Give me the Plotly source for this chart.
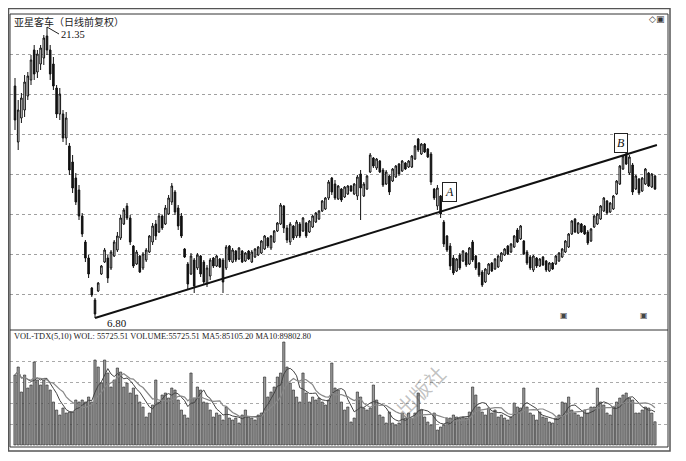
import plotly.graph_objects as go
import pandas as pd

# ---------------- data ----------------
open_ = [18.4,15.6,16.8,17.2,17.9,18.7,20.2,19.1,19.5,19.8,
 20.9,20.2,19.5,18.3,17.0,17.0,15.8,15.4,14.6,13.8,
 13.2,11.9,10.6,9.8,8.3,7.7,8.15,9.0,9.6,9.8,
 9.3,9.9,10.2,10.8,11.5,12.4,11.8,10.4,9.5,9.9,
 9.3,9.7,10.1,10.6,11.5,11.1,11.9,11.5,12.0,12.6,
 13.1,12.3,11.9,10.25,9.5,9.0,9.7,9.3,9.9,9.6,
 8.5,8.9,9.8,9.4,9.75,9.7,9.3,10.4,9.6,10.15,
 9.75,10.15,9.65,10.15,9.6,9.85,9.95,10.05,10.25,10.8,
 10.3,10.6,11.15,11.5,12.4,11.3,10.6,11.4,10.9,11.5,
 11.15,11.55,11.1,11.35,11.6,11.75,12.15,12.25,12.8,13.8,
 13.5,12.75,13.25,12.85,13.0,13.4,13.0,12.9,14.0,12.9,
 13.25,14.1,14.8,14.3,14.65,14.2,13.5,13.9,13.65,13.85,
 14.5,14.15,14.55,14.35,14.35,14.75,15.75,15.0,15.5,15.25,
 15.0,13.25,12.4,12.9,11.6,10.9,10.4,9.8,9.15,9.95,
 9.65,10.05,9.5,10.6,9.9,9.55,9.1,8.6,9.0,9.55,
 9.25,9.35,9.65,9.95,10.4,10.1,10.35,11.2,10.75,10.65,
 10.1,9.85,9.2,9.8,9.4,9.85,9.65,9.15,9.55,9.5,
 9.65,9.85,10.1,10.35,11.0,11.75,11.05,11.5,11.4,11.1,
 10.65,11.35,11.5,11.75,12.15,12.65,12.1,12.25,13.0,13.5,
 14.25,15.0,14.05,14.45,13.25,13.75,13.15,13.5,14.05,13.35,
 13.9]

high = [18.80,17.70,18.05,18.95,19.10,19.95,20.45,20.20,20.45,20.95,
 21.35,20.45,19.85,18.45,18.30,17.20,17.10,15.55,14.95,14.05,
 13.45,12.05,10.70,9.95,8.35,7.80,8.60,9.45,10.30,9.95,
 10.20,10.70,11.10,11.95,12.30,12.55,11.95,10.45,10.20,9.95,
 10.10,10.30,10.95,11.55,11.70,12.05,11.95,12.45,12.95,13.55,
 13.20,12.45,12.05,10.30,9.60,10.05,9.80,10.05,9.95,9.70,
 9.45,9.80,9.85,9.95,9.80,9.80,10.45,10.45,10.30,10.20,
 10.35,10.20,10.10,10.20,10.20,10.30,10.40,10.70,10.95,10.85,
 10.95,11.20,11.60,12.55,12.45,11.45,11.60,11.45,11.70,11.60,
 11.85,11.60,11.70,11.95,12.10,12.20,12.70,12.85,13.70,13.85,
 13.70,13.45,13.30,13.40,13.45,13.45,13.55,13.95,14.20,13.60,
 13.95,15.05,14.85,14.80,14.70,14.30,14.20,13.95,14.30,14.45,
 14.55,14.70,14.60,14.70,14.95,15.45,15.80,15.55,15.55,15.30,
 15.10,13.30,13.45,12.95,11.70,10.95,10.55,9.95,9.80,10.05,
 10.20,10.10,10.35,10.70,9.95,9.60,9.20,9.30,9.55,9.60,
 9.80,9.95,10.10,10.30,10.45,10.55,10.95,11.30,11.45,10.70,
 10.20,9.95,9.95,9.85,9.80,9.90,9.70,9.60,9.60,9.95,
 10.10,10.30,10.70,11.05,11.70,11.80,11.60,11.55,11.45,11.20,
 11.30,11.95,12.05,12.45,12.85,12.70,12.60,12.95,13.70,14.45,
 14.95,15.05,14.95,14.55,13.95,13.80,13.85,14.30,14.10,14.05,
 13.95]

low = [16.20,15.20,16.55,16.85,17.70,18.45,18.70,18.80,19.20,19.45,
 19.95,18.70,18.20,16.80,16.70,15.60,15.45,13.95,13.05,12.45,
 11.70,10.85,9.60,8.80,7.85,6.80,8.10,8.95,9.55,8.55,
 9.20,9.85,10.10,10.70,11.45,11.70,10.45,9.30,9.45,9.05,
 9.20,9.60,10.05,10.45,10.70,11.05,11.20,11.45,11.95,12.45,
 11.95,11.20,10.80,9.80,8.20,8.95,8.05,9.20,8.85,8.45,
 8.35,8.70,9.30,9.35,9.30,8.05,9.20,9.60,9.55,9.60,
 9.70,9.55,9.60,9.70,9.55,9.80,9.90,10.00,10.20,10.30,
 10.20,10.55,11.10,11.45,11.05,10.55,10.45,10.70,10.80,10.80,
 11.10,10.80,11.05,11.30,11.55,11.70,12.10,12.20,12.70,12.95,
 12.70,12.70,12.60,12.80,12.95,13.10,12.95,12.70,11.70,12.85,
 13.20,14.05,14.30,14.20,14.05,13.35,13.45,12.95,13.60,13.80,
 13.90,14.10,14.20,14.30,14.30,14.70,15.10,14.95,15.05,14.80,
 13.45,12.70,12.20,11.80,10.35,10.10,9.20,8.95,9.10,9.20,
 9.60,9.35,9.45,9.60,9.20,8.85,8.35,8.55,8.95,9.10,
 9.20,9.30,9.60,9.90,9.95,10.05,10.30,10.55,10.70,9.95,
 9.45,9.20,9.10,9.30,9.35,9.40,9.10,9.10,9.20,9.45,
 9.60,9.80,10.05,10.30,10.95,11.05,11.00,11.05,10.95,10.45,
 10.60,11.30,11.45,11.70,12.10,11.95,12.05,12.20,12.95,13.45,
 14.20,14.45,13.95,12.95,13.20,12.95,13.10,13.45,13.35,13.30,
 13.20]

close = [16.7,17.2,17.8,18.6,18.9,19.7,19.0,20.0,20.3,20.8,
 20.2,19.0,18.4,17.0,18.0,15.8,16.8,14.2,13.3,12.6,
 11.9,11.0,9.8,9.0,7.95,7.0,8.55,9.4,10.2,8.8,
 10.1,10.6,10.9,11.8,12.2,11.8,10.6,9.4,10.1,9.1,
 10.0,10.2,10.9,11.4,10.9,11.9,11.3,12.3,12.8,13.4,
 12.1,11.4,10.9,9.85,8.5,9.9,8.4,9.95,9.0,8.6,
 9.3,9.7,9.4,9.9,9.35,8.6,10.35,9.7,10.2,9.7,
 10.3,9.6,10.05,9.75,10.1,10.25,10.35,10.65,10.9,10.4,
 10.9,11.15,11.55,12.45,11.3,10.7,11.5,10.8,11.6,10.9,
 11.8,10.9,11.65,11.9,12.05,12.15,12.65,12.8,13.6,13.1,
 12.8,13.4,12.7,13.35,13.4,13.15,13.5,13.85,13.3,13.5,
 13.9,14.95,14.4,14.75,14.1,13.45,14.1,13.1,14.25,14.4,
 14.0,14.65,14.25,14.65,14.9,15.4,15.2,15.5,15.1,14.85,
 13.6,12.8,13.3,12.0,10.5,10.2,9.4,9.05,9.75,9.3,
 10.15,9.45,10.3,9.7,9.3,8.95,8.45,9.25,9.5,9.15,
 9.75,9.9,10.05,10.25,10.0,10.5,10.9,10.6,11.4,10.0,
 9.55,9.3,9.9,9.4,9.75,9.45,9.2,9.55,9.25,9.9,
 10.05,10.25,10.65,11.0,11.65,11.1,11.55,11.1,11.0,10.55,
 11.25,11.9,12.0,12.4,12.8,12.05,12.55,12.9,13.65,14.4,
 14.9,14.5,14.85,13.1,13.9,13.05,13.8,14.25,13.4,14.0,
 13.25]

# volume in thousands of lots
volume_k = [168.0,187.2,127.2,168.0,136.8,144.0,199.2,156.0,144.0,156.0,
 144.0,132.0,103.2,84.0,72.0,88.8,76.8,79.2,79.2,108.0,
 103.2,108.0,103.2,115.2,103.2,204.0,187.2,148.8,204.0,172.8,
 139.2,156.0,184.8,175.2,139.2,148.8,124.8,136.8,120.0,103.2,
 91.2,67.2,76.8,96.0,156.0,103.2,120.0,124.8,112.8,136.8,
 132.0,108.0,84.0,72.0,64.8,172.8,112.8,139.2,132.0,103.2,
 100.8,84.0,67.2,76.8,72.0,60.0,91.2,64.8,60.0,64.8,
 52.8,72.0,84.0,67.2,64.8,60.0,72.0,76.8,163.2,115.2,
 127.2,139.2,163.2,172.8,247.2,187.2,148.8,132.0,115.2,103.2,
 172.8,124.8,103.2,115.2,108.0,112.8,103.2,96.0,108.0,196.8,
 136.8,132.0,103.2,84.0,91.2,55.2,64.8,127.2,115.2,88.8,
 84.0,88.8,144.0,108.0,72.0,67.2,52.8,79.2,52.8,48.0,
 52.8,76.8,64.8,76.8,64.8,76.8,124.8,84.0,67.2,55.2,
 48.0,76.8,36.0,43.2,48.0,64.8,64.8,72.0,67.2,64.8,
 67.2,64.8,79.2,139.2,120.0,91.2,79.2,72.0,88.8,76.8,
 84.0,67.2,72.0,64.8,60.0,67.2,100.8,91.2,88.8,136.8,
 91.2,76.8,72.0,60.0,79.2,67.2,64.8,55.2,52.8,64.8,
 72.0,103.2,100.8,115.2,84.0,76.8,72.0,67.2,84.0,76.8,
 91.2,91.2,136.8,103.2,96.0,76.8,72.0,91.2,103.2,112.8,
 120.0,124.8,112.8,108.0,76.8,76.8,84.0,91.2,88.8,76.8,
 55.73]

# support trend line (from the 6.80 low through A and B)
trend_x = [25, 200.6]
trend_y = [6.80, 15.45]

price_grid = [8, 10, 12, 14, 16, 18, 20]
vol_grid = [50, 100, 150, 200]

title_text = "亚星客车（日线前复权）"
vol_text = "VOL-TDX(5,10) WOL: 55725.51 VOLUME:55725.51 MA5:85105.20 MA10:89802.80"

# ---------------- figure ----------------
idx = list(range(len(close)))
OFF = 8                      # page body margin of the html page
W, H = 686 - OFF, 461 - OFF
def px(x):
    return (x - OFF) / W
def py(y):
    return 1 - (y - OFF) / H

vol_s = pd.Series(volume_k)
ma5 = vol_s.rolling(5, min_periods=1).mean()
ma10 = vol_s.rolling(10, min_periods=1).mean()

fig = go.Figure()
fig.add_trace(go.Candlestick(
    x=idx, open=open_, high=high, low=low, close=close,
    increasing=dict(line=dict(color="#111", width=1), fillcolor="#ffffff"),
    decreasing=dict(line=dict(color="#111", width=1), fillcolor="#111111"),
    whiskerwidth=0, xaxis="x", yaxis="y", showlegend=False, hoverinfo="skip"))

fig.add_trace(go.Scatter(x=trend_x, y=trend_y, mode="lines",
    line=dict(color="#111", width=2), xaxis="x", yaxis="y", showlegend=False))

fig.add_trace(go.Bar(x=idx, y=volume_k, marker=dict(color="#9a9a9a", line=dict(color="#222", width=0.6)),
    xaxis="x2", yaxis="y2", showlegend=False))
fig.add_trace(go.Scatter(x=idx, y=ma5, mode="lines", line=dict(color="#444", width=1),
    xaxis="x2", yaxis="y2", showlegend=False))
fig.add_trace(go.Scatter(x=idx, y=ma10, mode="lines", line=dict(color="#888", width=1.2),
    xaxis="x2", yaxis="y2", showlegend=False))

xr = [(10 - 15) / 3.2, (668 - 15) / 3.2]
fig.update_layout(
    width=W, height=H, margin=dict(l=0, r=0, t=0, b=0),
    paper_bgcolor="white", plot_bgcolor="white", bargap=0.3,
    xaxis=dict(domain=[px(10), px(668)], range=xr, showticklabels=False, showgrid=False,
               zeroline=False, rangeslider=dict(visible=False), fixedrange=True),
    yaxis=dict(domain=[py(330), py(13)], range=[6.2, 22.05], showticklabels=False,
               tickvals=price_grid, showgrid=True, gridcolor="#a0a0a0", griddash="dot",
               gridwidth=1, zeroline=False),
    xaxis2=dict(domain=[px(10), px(668)], range=xr, showticklabels=False, showgrid=False,
                zeroline=False, anchor="y2"),
    yaxis2=dict(domain=[py(447), py(330)], range=[-4.8, 276], showticklabels=False,
                tickvals=vol_grid, showgrid=True, gridcolor="#aaaaaa", griddash="dot",
                gridwidth=1, zeroline=False, anchor="x2"),
    font=dict(family="Liberation Serif", color="#111"),
)

shapes = [
    dict(type="rect", xref="paper", yref="paper", x0=px(8.5), x1=px(670), y0=py(451), y1=py(8.5),
         line=dict(color="#555", width=1.5)),
    dict(type="rect", xref="paper", yref="paper", x0=px(10), x1=px(668), y0=py(447), y1=py(14),
         line=dict(color="#333", width=1)),
    dict(type="line", xref="paper", yref="paper", x0=px(10), x1=px(668), y0=py(330), y1=py(330),
         line=dict(color="#333", width=1)),
]
fig.update_layout(shapes=shapes)

ann = [
    dict(xref="paper", yref="paper", x=px(12), y=py(21), text=title_text, showarrow=False,
         xanchor="left", yanchor="middle", font=dict(family="Noto Sans CJK SC", size=10, color="#222")),
    dict(xref="paper", yref="paper", x=px(12), y=py(336), text=vol_text, showarrow=False,
         xanchor="left", yanchor="middle", font=dict(family="Liberation Serif", size=8.4, color="#222")),
    dict(xref="paper", yref="paper", x=px(666), y=py(19), text="◇▣", showarrow=False,
         xanchor="right", yanchor="middle", font=dict(family="DejaVu Sans", size=9, color="#333")),
    dict(xref="x", yref="y", x=10, y=21.35, ax=12, ay=7, text="21.35", showarrow=True,
         arrowhead=0, arrowwidth=1, arrowcolor="#222", xanchor="left", yanchor="middle",
         font=dict(family="Liberation Serif", size=10.5, color="#111")),
    dict(xref="x", yref="y", x=31.9, y=6.55, text="6.80", showarrow=False,
         xanchor="center", yanchor="middle", font=dict(family="Liberation Serif", size=11, color="#111")),
    dict(xref="x", yref="y", x=135.9, y=13.1, text="<i>A</i>", showarrow=False,
         bordercolor="#222", borderwidth=1, borderpad=2, bgcolor="white",
         font=dict(family="Liberation Serif", size=12, color="#111")),
    dict(xref="x", yref="y", x=189.4, y=15.55, text="<i>B</i>", showarrow=False,
         bordercolor="#222", borderwidth=1, borderpad=2, bgcolor="white",
         font=dict(family="Liberation Serif", size=12, color="#111")),
    dict(xref="paper", yref="paper", x=px(570), y=py(322), text="▣", showarrow=False,
         font=dict(family="DejaVu Sans", size=8, color="#444")),
    dict(xref="paper", yref="paper", x=px(650), y=py(322), text="▣", showarrow=False,
         font=dict(family="DejaVu Sans", size=8, color="#444")),
    dict(xref="paper", yref="paper", x=px(420), y=py(425), text="出版社", showarrow=False,
         textangle=-45, font=dict(family="Noto Sans CJK SC", size=20, color="rgba(80,80,80,0.35)")),
]
fig.update_layout(annotations=ann)

fig.write_html("out.html")
